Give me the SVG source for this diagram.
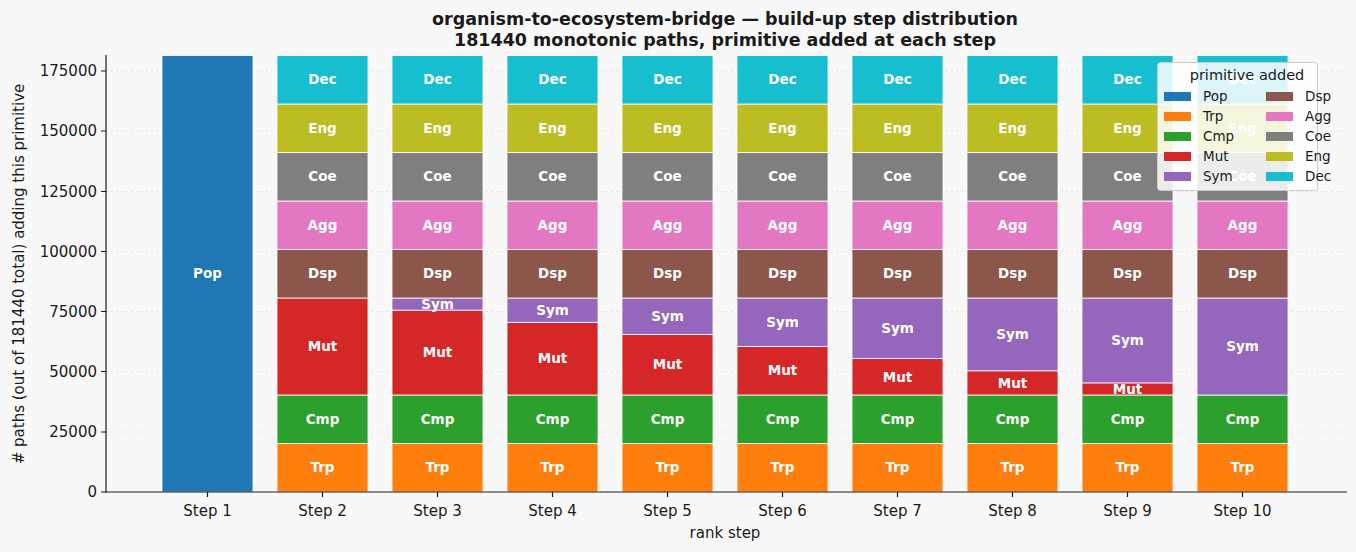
<svg xmlns="http://www.w3.org/2000/svg" width="1356" height="552" viewBox="0 0 1356 552">
<style>
text{font-family:"DejaVu Sans",sans-serif;fill:#1a1a1a}
.s rect{stroke:#fff;stroke-width:0.8}
.l{font-size:13.5px;font-weight:bold;fill:#fff;text-anchor:middle}
.tk{font-size:15px;text-anchor:end}
.tx{font-size:15px;text-anchor:middle}
.g{stroke:#ddd;stroke-width:0.8;stroke-dasharray:2 3}
.pop{fill:#1f77b4}.trp{fill:#ff7f0e}.cmp{fill:#2ca02c}.mut{fill:#d62728}.sym{fill:#9467bd}.dsp{fill:#8c564b}.agg{fill:#e377c2}.coe{fill:#7f7f7f}.eng{fill:#bcbd22}.dec{fill:#17becf}
.lg{font-size:13.5px}
</style>
<rect width="1356" height="552" fill="#f8f8f8"/>
<g id="grid">
<line class="g" x1="106" x2="1347" y1="71" y2="71"/>
<line class="g" x1="106" x2="1347" y1="131" y2="131"/>
<line class="g" x1="106" x2="1347" y1="191.5" y2="191.5"/>
<line class="g" x1="106" x2="1347" y1="251.5" y2="251.5"/>
<line class="g" x1="106" x2="1347" y1="311.5" y2="311.5"/>
<line class="g" x1="106" x2="1347" y1="371.5" y2="371.5"/>
<line class="g" x1="106" x2="1347" y1="432" y2="432"/>
</g>
<g id="bars" class="s">
<g id="step1"><rect class="pop" x="162" y="55.5" width="91" height="436.5"/><text class="l" x="207.5" y="278">Pop</text></g>
<g id="step2"><rect class="trp" x="277" y="443.5" width="91" height="48.5"/><rect class="cmp" x="277" y="395" width="91" height="48.5"/><rect class="mut" x="277" y="298" width="91" height="97"/><rect class="dsp" x="277" y="249.5" width="91" height="48.5"/><rect class="agg" x="277" y="201" width="91" height="48.5"/><rect class="coe" x="277" y="152.5" width="91" height="48.5"/><rect class="eng" x="277" y="104" width="91" height="48.5"/><rect class="dec" x="277" y="55.5" width="91" height="48.5"/>
<text class="l" x="322.5" y="472">Trp</text><text class="l" x="322.5" y="424">Cmp</text><text class="l" x="322.5" y="351">Mut</text><text class="l" x="322.5" y="278">Dsp</text><text class="l" x="322.5" y="230">Agg</text><text class="l" x="322.5" y="181">Coe</text><text class="l" x="322.5" y="133">Eng</text><text class="l" x="322.5" y="84">Dec</text></g>
<g id="step3"><rect class="trp" x="392" y="443.5" width="91" height="48.5"/><rect class="cmp" x="392" y="395" width="91" height="48.5"/><rect class="mut" x="392" y="310.1" width="91" height="84.9"/><rect class="sym" x="392" y="298" width="91" height="12.1"/><rect class="dsp" x="392" y="249.5" width="91" height="48.5"/><rect class="agg" x="392" y="201" width="91" height="48.5"/><rect class="coe" x="392" y="152.5" width="91" height="48.5"/><rect class="eng" x="392" y="104" width="91" height="48.5"/><rect class="dec" x="392" y="55.5" width="91" height="48.5"/>
<text class="l" x="437.5" y="472">Trp</text><text class="l" x="437.5" y="424">Cmp</text><text class="l" x="437.5" y="357">Mut</text><text class="l" x="437.5" y="308.5">Sym</text><text class="l" x="437.5" y="278">Dsp</text><text class="l" x="437.5" y="230">Agg</text><text class="l" x="437.5" y="181">Coe</text><text class="l" x="437.5" y="133">Eng</text><text class="l" x="437.5" y="84">Dec</text></g>
<g id="step4"><rect class="trp" x="507" y="443.5" width="91" height="48.5"/><rect class="cmp" x="507" y="395" width="91" height="48.5"/><rect class="mut" x="507" y="322.3" width="91" height="72.7"/><rect class="sym" x="507" y="298" width="91" height="24.3"/><rect class="dsp" x="507" y="249.5" width="91" height="48.5"/><rect class="agg" x="507" y="201" width="91" height="48.5"/><rect class="coe" x="507" y="152.5" width="91" height="48.5"/><rect class="eng" x="507" y="104" width="91" height="48.5"/><rect class="dec" x="507" y="55.5" width="91" height="48.5"/>
<text class="l" x="552.5" y="363">Mut</text><text class="l" x="552.5" y="314.5">Sym</text><text class="l" x="552.5" y="472">Trp</text><text class="l" x="552.5" y="424">Cmp</text><text class="l" x="552.5" y="278">Dsp</text><text class="l" x="552.5" y="230">Agg</text><text class="l" x="552.5" y="181">Coe</text><text class="l" x="552.5" y="133">Eng</text><text class="l" x="552.5" y="84">Dec</text></g>
<g id="step5"><rect class="trp" x="622" y="443.5" width="91" height="48.5"/><rect class="cmp" x="622" y="395" width="91" height="48.5"/><rect class="mut" x="622" y="334.4" width="91" height="60.6"/><rect class="sym" x="622" y="298" width="91" height="36.4"/><rect class="dsp" x="622" y="249.5" width="91" height="48.5"/><rect class="agg" x="622" y="201" width="91" height="48.5"/><rect class="coe" x="622" y="152.5" width="91" height="48.5"/><rect class="eng" x="622" y="104" width="91" height="48.5"/><rect class="dec" x="622" y="55.5" width="91" height="48.5"/>
<text class="l" x="667.5" y="369">Mut</text><text class="l" x="667.5" y="320.5">Sym</text><text class="l" x="667.5" y="472">Trp</text><text class="l" x="667.5" y="424">Cmp</text><text class="l" x="667.5" y="278">Dsp</text><text class="l" x="667.5" y="230">Agg</text><text class="l" x="667.5" y="181">Coe</text><text class="l" x="667.5" y="133">Eng</text><text class="l" x="667.5" y="84">Dec</text></g>
<g id="step6"><rect class="trp" x="737" y="443.5" width="91" height="48.5"/><rect class="cmp" x="737" y="395" width="91" height="48.5"/><rect class="mut" x="737" y="346.5" width="91" height="48.5"/><rect class="sym" x="737" y="298" width="91" height="48.5"/><rect class="dsp" x="737" y="249.5" width="91" height="48.5"/><rect class="agg" x="737" y="201" width="91" height="48.5"/><rect class="coe" x="737" y="152.5" width="91" height="48.5"/><rect class="eng" x="737" y="104" width="91" height="48.5"/><rect class="dec" x="737" y="55.5" width="91" height="48.5"/>
<text class="l" x="782.5" y="375">Mut</text><text class="l" x="782.5" y="326.5">Sym</text><text class="l" x="782.5" y="472">Trp</text><text class="l" x="782.5" y="424">Cmp</text><text class="l" x="782.5" y="278">Dsp</text><text class="l" x="782.5" y="230">Agg</text><text class="l" x="782.5" y="181">Coe</text><text class="l" x="782.5" y="133">Eng</text><text class="l" x="782.5" y="84">Dec</text></g>
<g id="step7"><rect class="trp" x="852" y="443.5" width="91" height="48.5"/><rect class="cmp" x="852" y="395" width="91" height="48.5"/><rect class="mut" x="852" y="358.6" width="91" height="36.4"/><rect class="sym" x="852" y="298" width="91" height="60.6"/><rect class="dsp" x="852" y="249.5" width="91" height="48.5"/><rect class="agg" x="852" y="201" width="91" height="48.5"/><rect class="coe" x="852" y="152.5" width="91" height="48.5"/><rect class="eng" x="852" y="104" width="91" height="48.5"/><rect class="dec" x="852" y="55.5" width="91" height="48.5"/>
<text class="l" x="897.5" y="381.5">Mut</text><text class="l" x="897.5" y="332.5">Sym</text><text class="l" x="897.5" y="472">Trp</text><text class="l" x="897.5" y="424">Cmp</text><text class="l" x="897.5" y="278">Dsp</text><text class="l" x="897.5" y="230">Agg</text><text class="l" x="897.5" y="181">Coe</text><text class="l" x="897.5" y="133">Eng</text><text class="l" x="897.5" y="84">Dec</text></g>
<g id="step8"><rect class="trp" x="967" y="443.5" width="91" height="48.5"/><rect class="cmp" x="967" y="395" width="91" height="48.5"/><rect class="mut" x="967" y="370.8" width="91" height="24.2"/><rect class="sym" x="967" y="298" width="91" height="72.8"/><rect class="dsp" x="967" y="249.5" width="91" height="48.5"/><rect class="agg" x="967" y="201" width="91" height="48.5"/><rect class="coe" x="967" y="152.5" width="91" height="48.5"/><rect class="eng" x="967" y="104" width="91" height="48.5"/><rect class="dec" x="967" y="55.5" width="91" height="48.5"/>
<text class="l" x="1012.5" y="387.5">Mut</text><text class="l" x="1012.5" y="339">Sym</text><text class="l" x="1012.5" y="472">Trp</text><text class="l" x="1012.5" y="424">Cmp</text><text class="l" x="1012.5" y="278">Dsp</text><text class="l" x="1012.5" y="230">Agg</text><text class="l" x="1012.5" y="181">Coe</text><text class="l" x="1012.5" y="133">Eng</text><text class="l" x="1012.5" y="84">Dec</text></g>
<g id="step9"><rect class="trp" x="1082" y="443.5" width="91" height="48.5"/><rect class="cmp" x="1082" y="395" width="91" height="48.5"/><rect class="mut" x="1082" y="382.9" width="91" height="12.1"/><rect class="sym" x="1082" y="298" width="91" height="84.9"/><rect class="dsp" x="1082" y="249.5" width="91" height="48.5"/><rect class="agg" x="1082" y="201" width="91" height="48.5"/><rect class="coe" x="1082" y="152.5" width="91" height="48.5"/><rect class="eng" x="1082" y="104" width="91" height="48.5"/><rect class="dec" x="1082" y="55.5" width="91" height="48.5"/>
<text class="l" x="1127.5" y="393.5">Mut</text><text class="l" x="1127.5" y="345">Sym</text><text class="l" x="1127.5" y="472">Trp</text><text class="l" x="1127.5" y="424">Cmp</text><text class="l" x="1127.5" y="278">Dsp</text><text class="l" x="1127.5" y="230">Agg</text><text class="l" x="1127.5" y="181">Coe</text><text class="l" x="1127.5" y="133">Eng</text><text class="l" x="1127.5" y="84">Dec</text></g>
<g id="step10"><rect class="trp" x="1197" y="443.5" width="91" height="48.5"/><rect class="cmp" x="1197" y="395" width="91" height="48.5"/><rect class="sym" x="1197" y="298" width="91" height="97"/><rect class="dsp" x="1197" y="249.5" width="91" height="48.5"/><rect class="agg" x="1197" y="201" width="91" height="48.5"/><rect class="coe" x="1197" y="152.5" width="91" height="48.5"/><rect class="eng" x="1197" y="104" width="91" height="48.5"/><rect class="dec" x="1197" y="55.5" width="91" height="48.5"/>
<text class="l" x="1242.5" y="351">Sym</text><text class="l" x="1242.5" y="472">Trp</text><text class="l" x="1242.5" y="424">Cmp</text><text class="l" x="1242.5" y="278">Dsp</text><text class="l" x="1242.5" y="230">Agg</text><text class="l" x="1242.5" y="181">Coe</text><text class="l" x="1242.5" y="133">Eng</text><text class="l" x="1242.5" y="84">Dec</text></g>
</g>
<g id="axes" stroke="#1a1a1a" stroke-width="1.2">
<line x1="106" y1="55" x2="106" y2="492.5"/><line x1="105.5" y1="492" x2="1347" y2="492"/>
<path d="M101 71H106M101 131H106M101 191.5H106M101 251.5H106M101 311.5H106M101 371.5H106M101 432H106M101 492H106M207.5 492v5M322.5 492v5M437.5 492v5M552.5 492v5M667.5 492v5M782.5 492v5M897.5 492v5M1012.5 492v5M1127.5 492v5M1242.5 492v5"/>
</g>
<g id="ticks">
<text class="tk" x="97" y="76">175000</text><text class="tk" x="97" y="136">150000</text><text class="tk" x="97" y="196.5">125000</text><text class="tk" x="97" y="256.5">100000</text><text class="tk" x="97" y="316.5">75000</text><text class="tk" x="97" y="376.5">50000</text><text class="tk" x="97" y="437">25000</text><text class="tk" x="97" y="497">0</text>
<text class="tx" x="207.5" y="516">Step 1</text><text class="tx" x="322.5" y="516">Step 2</text><text class="tx" x="437.5" y="516">Step 3</text><text class="tx" x="552.5" y="516">Step 4</text><text class="tx" x="667.5" y="516">Step 5</text><text class="tx" x="782.5" y="516">Step 6</text><text class="tx" x="897.5" y="516">Step 7</text><text class="tx" x="1012.5" y="516">Step 8</text><text class="tx" x="1127.5" y="516">Step 9</text><text class="tx" x="1242.5" y="516">Step 10</text>
<text class="tx" x="725" y="538">rank step</text>
<text class="tx" transform="translate(24 274) rotate(-90)">#  paths (out of 181440 total) adding this primitive</text>
<text x="725" y="25" text-anchor="middle" font-size="17.5" font-weight="bold">organism-to-ecosystem-bridge — build-up step distribution</text>
<text x="725" y="46" text-anchor="middle" font-size="17.5" font-weight="bold">181440 monotonic paths, primitive added at each step</text>
</g>
<g id="legend">
<rect x="1157.5" y="62.5" width="160" height="128" rx="3" fill="#fff" fill-opacity="0.85" stroke="#ccc"/>
<text x="1247" y="80" text-anchor="middle" font-size="14.5">primitive added</text>
<rect class="pop" x="1164" y="92" width="27" height="9"/><text class="lg" x="1203" y="101">Pop</text>
<rect class="trp" x="1164" y="112" width="27" height="9"/><text class="lg" x="1203" y="121">Trp</text>
<rect class="cmp" x="1164" y="132" width="27" height="9"/><text class="lg" x="1203" y="141">Cmp</text>
<rect class="mut" x="1164" y="152" width="27" height="9"/><text class="lg" x="1203" y="161">Mut</text>
<rect class="sym" x="1164" y="172" width="27" height="9"/><text class="lg" x="1203" y="181">Sym</text>
<rect class="dsp" x="1266" y="92" width="27" height="9"/><text class="lg" x="1305" y="101">Dsp</text>
<rect class="agg" x="1266" y="112" width="27" height="9"/><text class="lg" x="1305" y="121">Agg</text>
<rect class="coe" x="1266" y="132" width="27" height="9"/><text class="lg" x="1305" y="141">Coe</text>
<rect class="eng" x="1266" y="152" width="27" height="9"/><text class="lg" x="1305" y="161">Eng</text>
<rect class="dec" x="1266" y="172" width="27" height="9"/><text class="lg" x="1305" y="181">Dec</text>
</g>
</svg>
